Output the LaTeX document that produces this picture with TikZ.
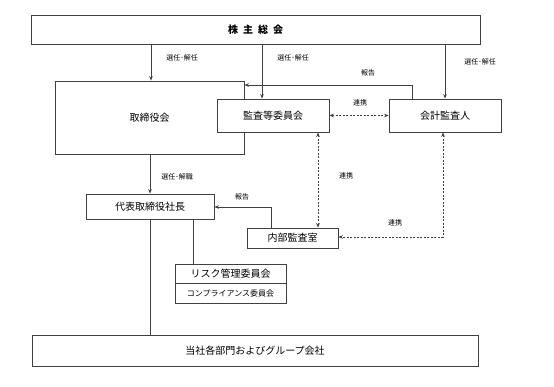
\documentclass[tikz,border=0pt]{standalone}
\usepackage{fontspec}
\setmainfont{Noto Sans CJK JP}
\usetikzlibrary{arrows.meta,calc}
\begin{document}
\begin{tikzpicture}[x=1pt,y=-1pt,
  box/.style={draw=black!75,line width=0.8pt,fill=white,rectangle,inner sep=0pt,font=\fontsize{10}{12}\selectfont},
  lbl/.style={font=\fontsize{7}{8}\selectfont,inner sep=0pt,text=black},
  ln/.style={draw=black!75,line width=0.8pt},
  arr/.style={ln,-{Stealth[length=4.5pt,width=3.6pt]}},
  darr/.style={ln,dashed,dash pattern=on 2pt off 1.5pt,{Stealth[length=4.5pt,width=3.6pt]}-{Stealth[length=4.5pt,width=3.6pt]}}]
\useasboundingbox (0,0) rectangle (554,386);
\node[box,minimum width=449pt,minimum height=29pt,font=\fontsize{10}{12}\selectfont\bfseries] (top) at (255.5,29.5) {株\hspace{0.5em}主\hspace{0.5em}総\hspace{0.5em}会};
\node[box,minimum width=189pt,minimum height=73pt] (board) at (149.5,117.5) {取締役会};
\node[box,minimum width=112pt,minimum height=33pt] (kansa) at (273,115.5) {監査等委員会};
\node[box,minimum width=112pt,minimum height=33pt] (acct) at (445,115.5) {会計監査人};
\node[box,minimum width=128pt,minimum height=25pt] (pres) at (150,206.5) {代表取締役社長};
\node[box,minimum width=91pt,minimum height=20pt] (internal) at (292.5,238) {内部監査室};
\node[box,minimum width=111pt,minimum height=19pt] (risk) at (230.5,273.5) {リスク管理委員会};
\node[box,minimum width=111pt,minimum height=20pt,font=\fontsize{8}{10}\selectfont] (comp) at (230.5,293) {コンプライアンス委員会};
\node[box,minimum width=446pt,minimum height=31pt] (bottom) at (255,350.5) {当社各部門およびグループ会社};
% x positions
\coordinate (x1) at (151,0);
\coordinate (x2) at (262,0);
\coordinate (x3) at (445,0);
\coordinate (x4) at (412,0);
\coordinate (y4) at (0,85);
\coordinate (x5) at (318,0);
\coordinate (x6) at (443,0);
\coordinate (y6) at (0,237);
\coordinate (x7) at (271,0);
\coordinate (y7) at (0,207);
\coordinate (x8) at (150,0);
\coordinate (x9) at (193,0);
% election arrows
\draw[arr] (top.south -| x1) -- (board.north -| x1);
\draw[arr] (top.south -| x2) -- (kansa.north -| x2);
\draw[arr] (top.south -| x3) -- (acct.north -| x3);
\node[lbl] (l1) at (182,58) {選任･解任};
\node[lbl] (l2) at (293,58) {選任･解任};
\node[lbl] (l3) at (480,62) {選任･解任};
% report from accountant to board
\draw[arr] (acct.north -| x4) -- (x4 |- y4) -- (board.east |- y4);
\node[lbl] (l4) at (368,73) {報告};
% cooperation
\draw[darr] (kansa.east) -- (acct.west);
\node[lbl] (l5) at (360,103) {連携};
\draw[darr] (kansa.south -| x5) -- (internal.north -| x5);
\node[lbl] (l6) at (346,176) {連携};
\draw[darr] (acct.south -| x6) -- (x6 |- y6) -- (internal.east |- y6);
\node[lbl] (l7) at (395,223) {連携};
% board to president
\draw[arr] (board.south -| x8) -- (pres.north -| x8);
\node[lbl] (l8) at (177,177) {選任･解職};
% internal report to president
\draw[arr] (internal.north -| x7) -- (x7 |- y7) -- (pres.east |- y7);
\node[lbl] (l9) at (242,197) {報告};
% president lines
\draw[ln] (pres.south -| x8) -- (bottom.north -| x8);
\draw[ln] (pres.south -| x9) -- (risk.north -| x9);
\end{tikzpicture}
\end{document}
